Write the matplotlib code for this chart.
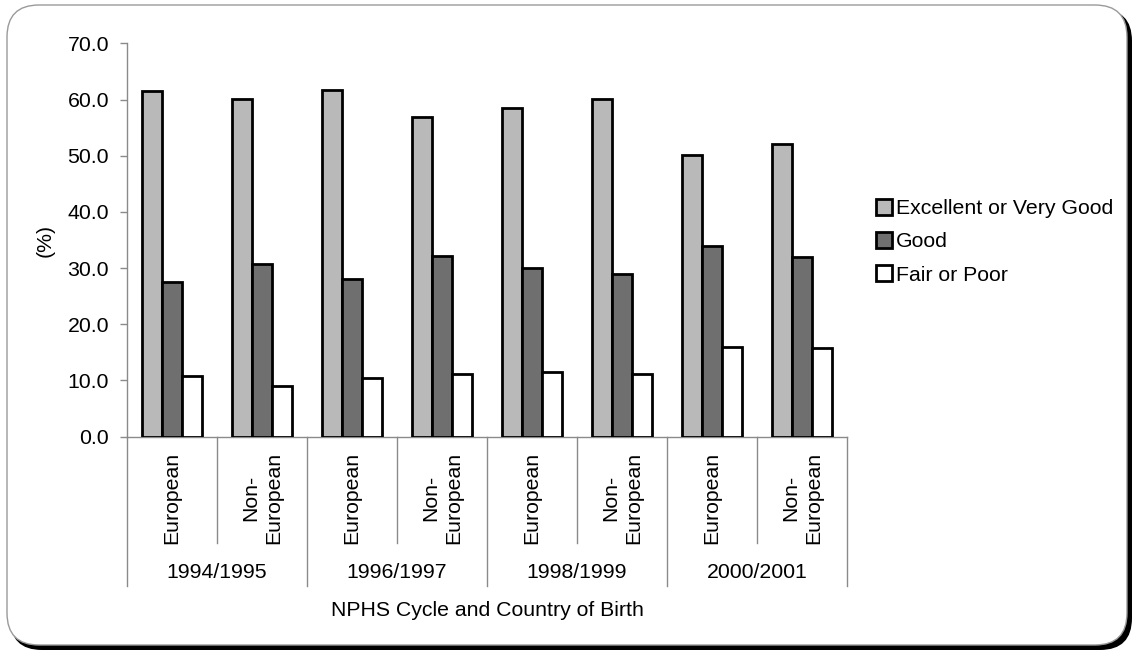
import matplotlib
matplotlib.use("Agg")
import matplotlib.pyplot as plt
from matplotlib.patches import FancyBboxPatch, Patch
from matplotlib.transforms import blended_transform_factory
import numpy as np

plt.rcParams['font.family'] = ['Liberation Sans', 'DejaVu Sans']

# NPHS cycles and country-of-birth groups
cycles = ["1994/1995", "1996/1997", "1998/1999", "2000/2001"]
groups = ["European", "Non-\nEuropean"]
series = ["Excellent or Very Good", "Good", "Fair or Poor"]

# Self-rated health (%) per cycle/group, in order:
# 94/95 Eur, 94/95 Non-Eur, 96/97 Eur, 96/97 Non-Eur, ...
excellent = [61.6, 60.1, 61.7, 56.8, 58.4, 60.1, 50.2, 52.1]
good = [27.6, 30.7, 28.0, 32.2, 30.0, 28.9, 34.0, 32.0]
fair = [10.8, 9.1, 10.4, 11.1, 11.5, 11.1, 15.9, 15.8]

colors = ["#b9b9b9", "#6f6f6f", "#ffffff"]
axis_gray = "#8a8a8a"
FS = 15.3

W, H = 1135, 654
fig = plt.figure(figsize=(W / 100, H / 100), dpi=100)
fig.patch.set_facecolor("white")

# Rounded frame with a dark drop shadow on the right and bottom
inch = fig.dpi_scale_trans
shadow = FancyBboxPatch((10 / 100, (H - 650) / 100), (1132 - 10) / 100, (650 - 9) / 100,
                        boxstyle="round,pad=0,rounding_size=0.32",
                        transform=inch, facecolor="black", edgecolor="black", lw=0,
                        zorder=-20)
card = FancyBboxPatch((7 / 100, (H - 645) / 100), (1127 - 7) / 100, (645 - 5) / 100,
                      boxstyle="round,pad=0,rounding_size=0.32",
                      transform=inch, facecolor="white", edgecolor="#9a9a9a", lw=1.0,
                      zorder=-10)
fig.add_artist(shadow)
fig.add_artist(card)

ax_l, ax_r, ax_t, ax_b = 127, 847, 43.3, 436.7
ax = fig.add_axes([ax_l / W, 1 - ax_b / H, (ax_r - ax_l) / W, (ax_b - ax_t) / H])
ax.set_facecolor("none")

n = len(excellent)
x = np.arange(n)
bw = 0.222
for off, vals, col, lab in zip((-bw, 0, bw), (excellent, good, fair), colors, series):
    ax.bar(x + off, vals, width=bw, color=col, edgecolor="black", linewidth=2.0,
           label=lab, zorder=3)

ax.set_xlim(-0.5, n - 0.5)
ax.set_ylim(0, 70)
ax.set_yticks(np.arange(0, 71, 10))
ax.set_yticklabels([f"{v:.1f}" for v in np.arange(0, 71, 10)], fontsize=FS)
ax.tick_params(axis="y", length=5, width=1, color=axis_gray, pad=8)
ax.set_xticks([])

for s in ("top", "right"):
    ax.spines[s].set_visible(False)
for s in ("left", "bottom"):
    ax.spines[s].set_color(axis_gray)
    ax.spines[s].set_linewidth(1.0)

ax.set_ylabel("(%)", fontsize=FS)
ax.yaxis.set_label_coords(-(ax_l - 45) / (ax_r - ax_l), 0.5)
ax.yaxis.label.set_va("center")

# Two-level category axis below the plot
ah = ax_b - ax_t
def ay(py):
    return (ax_b - py) / ah

trans = blended_transform_factory(ax.transData, ax.transAxes)
labels = [g for c in cycles for g in groups]
for i, lab in enumerate(labels):
    ax.text(i, ay(497.7), lab, rotation=90, ha="center", va="center",
            multialignment="center", linespacing=1.25, fontsize=FS,
            transform=trans, clip_on=False)

for b in range(n + 1):
    bx = b - 0.5
    bottom = ay(586) if b % 2 == 0 else ay(543)
    ax.plot([bx, bx], [0, bottom], color=axis_gray, lw=1.0, transform=trans,
            clip_on=False)

for k, c in enumerate(cycles):
    ax.text(2 * k + 0.5, ay(572), c, ha="center", va="center", fontsize=FS,
            transform=trans, clip_on=False)

ax.text(0.5, ay(611), "NPHS Cycle and Country of Birth", ha="center", va="center",
        fontsize=FS, transform=ax.transAxes, clip_on=False)

handles = [Patch(facecolor=c, edgecolor="black", linewidth=2.0) for c in colors]
fig.legend(handles, series, loc="upper left", bbox_to_anchor=(876 / W, 1 - 199 / H),
           frameon=False, fontsize=FS, handlelength=0.75, handleheight=0.75,
           handletextpad=0.2, labelspacing=0.66, borderpad=0, borderaxespad=0)

fig.savefig("out.png", dpi=100, facecolor="white")
